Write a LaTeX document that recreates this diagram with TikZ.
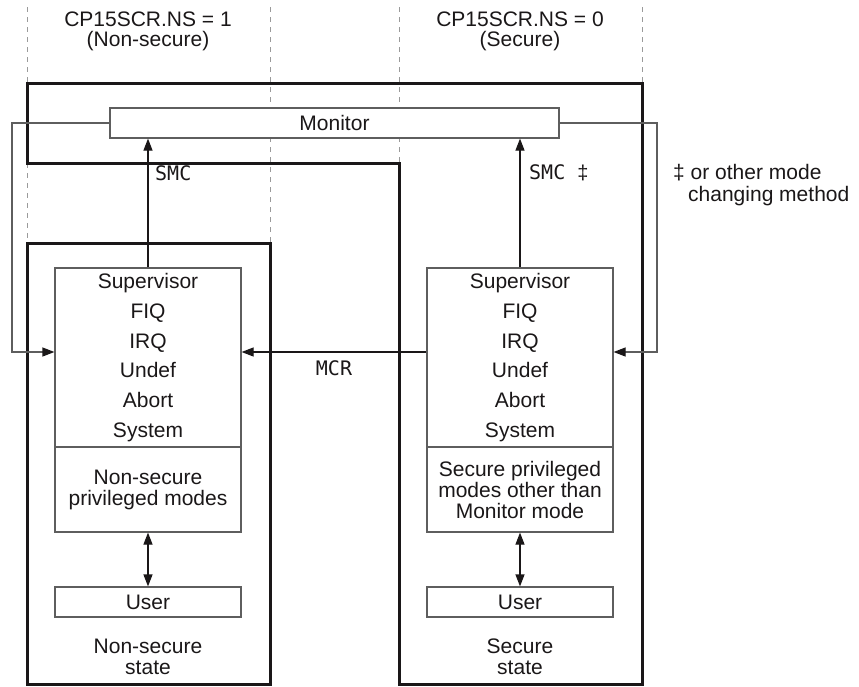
\documentclass[tikz,border=0pt]{standalone}
\usepackage{fontspec}
\setmainfont{Liberation Sans}
\setmonofont{DejaVu Sans Mono}
\usetikzlibrary{arrows.meta}
\definecolor{ink}{HTML}{1A1718}
\definecolor{thin}{HTML}{5E5E5E}
\definecolor{guidec}{HTML}{9A9A9A}
\begin{document}
\begin{tikzpicture}[x=1pt,y=-1pt,
  txt/.style={font=\fontsize{21}{21}\selectfont, text=ink, inner sep=0pt, align=center},
  modes/.style={font=\fontsize{21}{29.8}\selectfont, text=ink, inner sep=0pt, align=center},
  mono/.style={font=\ttfamily\fontsize{20}{20}\selectfont, text=ink, inner sep=0pt},
  box/.style={draw=thin, line width=1.2pt, inner sep=0pt, minimum width=186pt, align=center, text=ink, font=\fontsize{21}{21}\selectfont},
  frame/.style={draw=ink, line width=3pt},
  guide/.style={draw=guidec, line width=1pt, dash pattern=on 5pt off 5pt},
  arr/.style={draw=ink, line width=1.2pt, -{Triangle[length=12pt,width=9pt]}},
  dbl/.style={draw=ink, line width=1.2pt, {Triangle[length=12pt,width=9pt]}-{Triangle[length=12pt,width=9pt]}},
  loopl/.style={draw=thin, line width=1.2pt, -{Triangle[length=12pt,width=9pt,color=ink]}},
  ]
\useasboundingbox (0,0) rectangle (859,686);

% dashed guides
\draw[guide] (27,7) -- (27,83);
\draw[guide] (27,163) -- (27,243);
\draw[guide] (270,7) -- (270,243);
\draw[guide] (399,7) -- (399,163);
\draw[guide] (642,7) -- (642,83);

% state frames
\draw[frame] (27,243) rectangle (270,684);
\draw[frame] (27,83) -- (642,83) -- (642,684) -- (399,684) -- (399,163) -- (27,163) -- cycle;

% headers
\node[txt, font=\fontsize{21}{20}\selectfont] (hns) at (148,31) {CP15SCR.NS = 1\\(Non-secure)};
\node[txt, font=\fontsize{21}{20}\selectfont] (hs) at (520,31) {CP15SCR.NS = 0\\(Secure)};

% monitor
\node[draw=thin, line width=1.2pt, fill=white, minimum width=449pt, minimum height=30pt, inner sep=0pt, txt] (monitor) at (334.5,123) {Monitor};

% non-secure boxes
\node[box, modes, draw=thin, minimum width=186pt, minimum height=179pt] (nsTop) at (148,357.5) {Supervisor\\FIQ\\IRQ\\Undef\\Abort\\System};
\node[box, minimum height=85pt] (nsBot) at (148,489.5) {Non-secure\\privileged modes};
\node[box, minimum height=30pt] (nsUser) at (148,602) {User};
\node[txt] (nsState) at (148,657) {Non-secure\\state};

% secure boxes
\node[box, modes, draw=thin, minimum width=186pt, minimum height=179pt] (sTop) at (520,357.5) {Supervisor\\FIQ\\IRQ\\Undef\\Abort\\System};
\node[box, minimum height=85pt] (sBot) at (520,489.5) {Secure privileged\\modes other than\\Monitor mode};
\node[box, minimum height=30pt] (sUser) at (520,602) {User};
\node[txt] (sState) at (520,657) {Secure\\state};

% connectors
\coordinate (lc) at (12,352);
\coordinate (rc) at (657,352);
\draw[loopl] (monitor.west) -| (lc) -- (lc -| nsTop.west);
\draw[loopl] (monitor.east) -| (rc) -- (rc -| sTop.east);
\draw[arr] (sTop.west |- lc) -- (nsTop.east |- lc);
\draw[arr] (nsTop.north) -- (nsTop.north |- monitor.south);
\draw[arr] (sTop.north) -- (sTop.north |- monitor.south);
\draw[dbl] (nsBot.south) -- (nsUser.north);
\draw[dbl] (sBot.south) -- (sUser.north);

% labels
\node[mono, anchor=west] (smcl) at (155,173) {SMC};
\node[mono, anchor=west] (smcr) at (529,173) {SMC {\rmfamily ‡}};
\node[mono] (mcr) at (334,368) {MCR};
\node[txt, anchor=west] (note1) at (673,173) {‡ or other mode};
\node[txt, anchor=west] (note2) at (688,196) {changing method};
\end{tikzpicture}
\end{document}
